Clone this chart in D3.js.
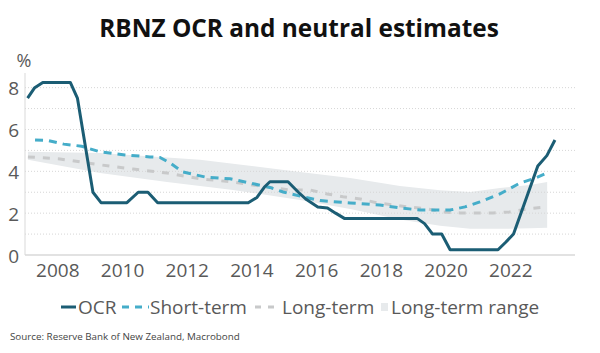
<!DOCTYPE html>
<html>
<head>
<meta charset="utf-8">
<script src="https://cdn.jsdelivr.net/npm/d3@7"></script>
<style>
  html, body { margin: 0; padding: 0; background: #ffffff; }
  svg { display: block; }
  text { font-family: "Open Sans", "Noto Sans", sans-serif; }
</style>
</head>
<body>
<svg id="chart" width="600" height="353"></svg>
<script>
// ---------- data ----------
const xTickYears = [2008, 2010, 2012, 2014, 2016, 2018, 2020, 2022];
const yTickValues = [0, 2, 4, 6, 8];
const gridValues = [1, 2, 3, 4, 5, 6, 7, 8];

const ocrDates  = [2007.08, 2007.3, 2007.55, 2008.4, 2008.62, 2009.1, 2009.35, 2010.15, 2010.5, 2010.8, 2011.1, 2013.9, 2014.17, 2014.4, 2014.57, 2015.13, 2015.45, 2015.7, 2016.05, 2016.35, 2016.6, 2016.87, 2019.12, 2019.35, 2019.6, 2019.88, 2020.14, 2021.62, 2021.85, 2022.1, 2022.85, 2023.13, 2023.38];
const ocrValues = [7.5, 8.0, 8.25, 8.25, 7.5, 3.0, 2.5, 2.5, 3.0, 3.0, 2.5, 2.5, 2.75, 3.25, 3.5, 3.5, 3.0, 2.65, 2.3, 2.25, 2.0, 1.75, 1.75, 1.5, 1.0, 1.0, 0.25, 0.25, 0.6, 1.0, 4.25, 4.75, 5.5];

const shortDates  = [2007.31, 2007.7, 2008.2, 2008.75, 2009.32, 2010.09, 2010.86, 2011.17, 2011.48, 2011.88, 2012.56, 2013.34, 2013.96, 2014.57, 2014.98, 2015.6, 2016.12, 2017.05, 2017.97, 2018.59, 2019.21, 2020.14, 2020.6, 2021.06, 2021.68, 2022.3, 2022.77, 2023.14];
const shortValues = [5.5, 5.48, 5.3, 5.2, 4.93, 4.78, 4.69, 4.66, 4.4, 3.97, 3.73, 3.64, 3.44, 3.23, 3.01, 2.78, 2.6, 2.49, 2.39, 2.25, 2.15, 2.15, 2.3, 2.54, 2.92, 3.44, 3.68, 3.92];

const longDates  = [2007.09, 2008.08, 2009.32, 2010.34, 2011.39, 2012.41, 2013.43, 2014.48, 2015.19, 2015.81, 2016.34, 2016.83, 2017.36, 2017.88, 2018.38, 2018.81, 2019.43, 2019.92, 2020.45, 2020.97, 2021.47, 2021.99, 2022.52, 2023.14];
const longValues = [4.69, 4.59, 4.31, 4.11, 3.92, 3.64, 3.49, 3.25, 3.11, 3.11, 2.92, 2.78, 2.68, 2.49, 2.39, 2.3, 2.2, 2.06, 2.01, 2.01, 2.01, 2.06, 2.2, 2.3];

const rangeDates = [2007.09, 2009.32, 2011.39, 2012.41, 2013.43, 2015.5, 2017.05, 2018.59, 2019.83, 2020.76, 2021.68, 2022.61, 2023.14];
const rangeHigh  = [4.93, 4.88, 4.66, 4.55, 4.36, 3.97, 3.68, 3.3, 3.1, 3.01, 3.2, 3.35, 3.49];
const rangeLow   = [4.55, 3.92, 3.49, 3.3, 3.11, 2.63, 2.2, 1.7, 1.4, 1.25, 1.25, 1.28, 1.3];

const legendLabels = ["OCR", "Short-term", "Long-term", "Long-term range"];

// ---------- styling ----------
const colOCR = "#1b5d74";
const colShort = "#45adc9";
const colLong = "#c8c9ca";
const colRange = "#e7eaec";
const colText = "#595959";

const svg = d3.select("#chart");

const x = d3.scaleLinear().domain([2007, 2024]).range([25, 575]);
const y = d3.scaleLinear().domain([0, 8.7]).range([255, 73]);

// title
svg.append("text")
  .attr("x", 299).attr("y", 37)
  .attr("text-anchor", "middle")
  .style("font-weight", "700").style("font-size", "24.4px").style("fill", "#111")
  .text("RBNZ OCR and neutral estimates");

// range band
const zipRange = rangeDates.map((d, i) => ({ d, lo: rangeLow[i], hi: rangeHigh[i] }));
svg.append("path")
  .datum(zipRange)
  .attr("fill", colRange)
  .attr("d", d3.area().x(p => x(p.d)).y0(p => y(p.lo)).y1(p => y(p.hi)));

// gridlines
svg.append("g").selectAll("line").data(gridValues).join("line")
  .attr("x1", 25).attr("x2", 575)
  .attr("y1", d => y(d)).attr("y2", d => y(d))
  .attr("stroke", "#d6d6d6").attr("stroke-width", 1).attr("stroke-dasharray", "1,2");

// axis lines
svg.append("line").attr("x1", x(2007)).attr("x2", x(2007)).attr("y1", y(8.7)).attr("y2", y(0))
  .attr("stroke", "#d9d9d9").attr("stroke-width", 1);
svg.append("line").attr("x1", x(2007)).attr("x2", x(2024)).attr("y1", y(0)).attr("y2", y(0))
  .attr("stroke", "#d9d9d9").attr("stroke-width", 1.5);

// y axis labels
const yAxis = d3.axisLeft(y).tickValues(yTickValues).tickSize(0).tickPadding(0).tickFormat(d3.format("d"));
const gy = svg.append("g").attr("transform", "translate(19,1)").call(yAxis);
gy.select(".domain").remove();
gy.selectAll("text").style("font-size", "19px").style("fill", colText).style("font-family", "'Open Sans', sans-serif");

svg.append("text").attr("x", 24).attr("y", 67).attr("text-anchor", "middle")
  .style("font-size", "18px").style("fill", colText).text("%");

// x axis labels
const xAxis = d3.axisBottom(x).tickValues(xTickYears).tickSize(0).tickPadding(9).tickFormat(d3.format("d"));
const gx = svg.append("g").attr("transform", `translate(0,${y(0)})`).call(xAxis);
gx.select(".domain").remove();
gx.selectAll("text").style("font-size", "19px").style("fill", colText).style("font-family", "'Open Sans', sans-serif");

// lines
const line = d3.line().x(p => x(p[0])).y(p => y(p[1]));
svg.append("path").datum(longDates.map((d, i) => [d, longValues[i]]))
  .attr("fill", "none").attr("stroke", colLong).attr("stroke-width", 3)
  .attr("stroke-dasharray", "7,8").attr("d", line);
svg.append("path").datum(shortDates.map((d, i) => [d, shortValues[i]]))
  .attr("fill", "none").attr("stroke", colShort).attr("stroke-width", 3)
  .attr("stroke-dasharray", "8,6").attr("d", line);
svg.append("path").datum(ocrDates.map((d, i) => [d, ocrValues[i]]))
  .attr("fill", "none").attr("stroke", colOCR).attr("stroke-width", 3)
  .attr("stroke-linejoin", "round").attr("d", line);

// legend
const ly = 307;
const lg = svg.append("g");
lg.append("line").attr("x1", 61).attr("x2", 76).attr("y1", ly).attr("y2", ly).attr("stroke", colOCR).attr("stroke-width", 3);
lg.append("text").attr("x", 78).attr("y", ly).attr("dy", "0.35em").style("font-size", "19px").style("fill", colText).text(legendLabels[0]);
lg.append("line").attr("x1", 122).attr("x2", 149).attr("y1", ly).attr("y2", ly).attr("stroke", colShort).attr("stroke-width", 3).attr("stroke-dasharray", "7,6");
lg.append("text").attr("x", 150).attr("y", ly).attr("dy", "0.35em").style("font-size", "19px").style("fill", colText).text(legendLabels[1]);
lg.append("line").attr("x1", 255).attr("x2", 280).attr("y1", ly).attr("y2", ly).attr("stroke", colLong).attr("stroke-width", 3).attr("stroke-dasharray", "6,7");
lg.append("text").attr("x", 282).attr("y", ly).attr("dy", "0.35em").style("font-size", "19px").style("fill", colText).text(legendLabels[2]);
lg.append("rect").attr("x", 381).attr("y", ly - 4).attr("width", 7).attr("height", 8).attr("fill", colRange);
lg.append("text").attr("x", 391).attr("y", ly).attr("dy", "0.35em").style("font-size", "19px").style("fill", colText).text(legendLabels[3]);

// source
svg.append("text").attr("x", 10).attr("y", 340)
  .style("font-size", "9.8px").style("fill", "#444")
  .text("Source: Reserve Bank of New Zealand, Macrobond");
</script>
</body>
</html>
